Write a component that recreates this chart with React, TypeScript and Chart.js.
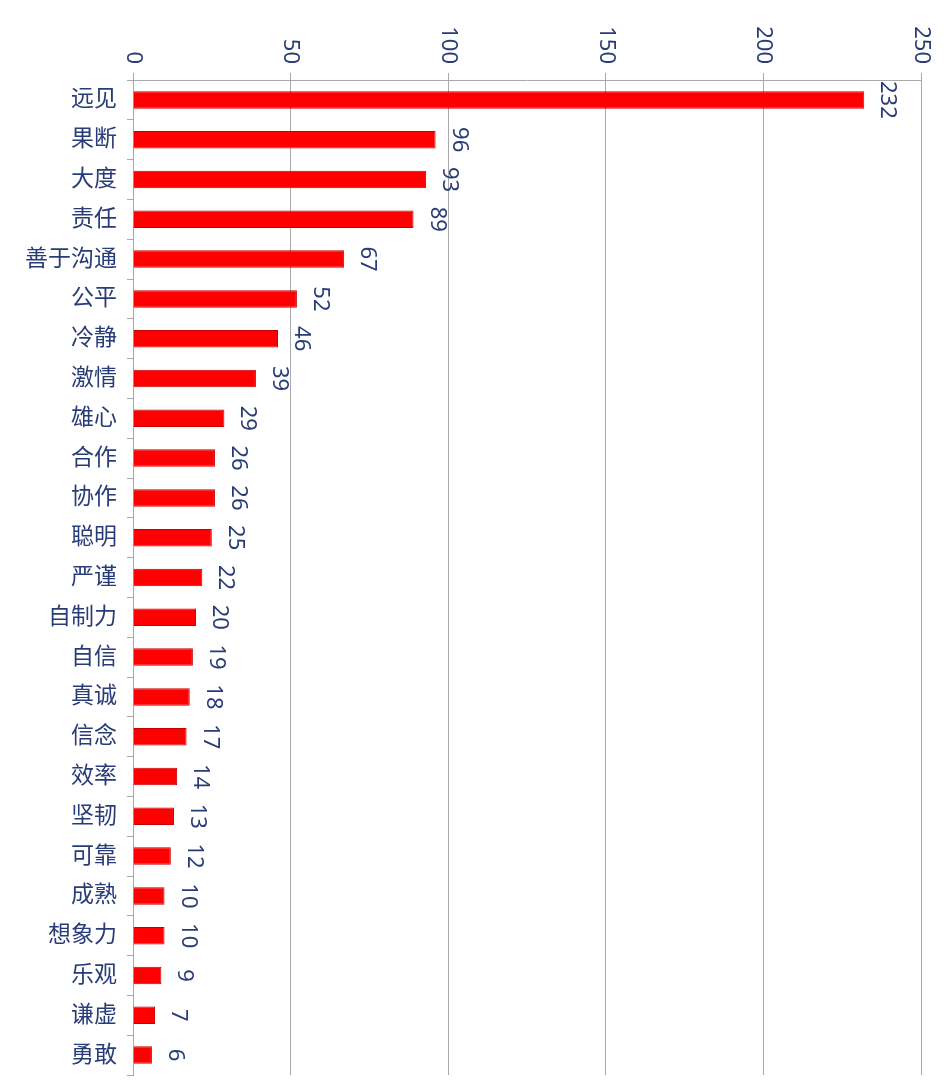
import { useEffect, useRef } from "react"
import { Chart, registerables } from "chart.js"

Chart.register(...registerables)

// traits and how many times each was mentioned
const traits = [
  "远见", "果断", "大度", "责任", "善于沟通", "公平", "冷静", "激情", "雄心", "合作",
  "协作", "聪明", "严谨", "自制力", "自信", "真诚", "信念", "效率", "坚韧", "可靠",
  "成熟", "想象力", "乐观", "谦虚", "勇敢",
]
const counts = [
  232, 96, 93, 89, 67, 52, 46, 39, 29, 26,
  26, 25, 22, 20, 19, 18, 17, 14, 13, 12,
  10, 10, 9, 7, 6,
]
const axisTicks = [0, 50, 100, 150, 200, 250]

const textColor = "#283c78"
const gridColor = "#a9a9a9"
const fontFamily = '"Noto Sans", "Noto Sans CJK SC", sans-serif'

// tick labels and value labels are drawn turned 90° clockwise
const rotatedText = {
  id: "rotatedText",
  afterDatasetsDraw(chart: any) {
    const ctx = chart.ctx
    const xScale = chart.scales.x
    const meta = chart.getDatasetMeta(0)
    ctx.save()
    ctx.fillStyle = textColor
    ctx.font = `22px ${fontFamily}`

    axisTicks.forEach((v) => {
      ctx.save()
      ctx.translate(xScale.getPixelForValue(v), xScale.bottom - 16)
      ctx.rotate(Math.PI / 2)
      ctx.textAlign = "right"
      ctx.textBaseline = "middle"
      ctx.fillText(String(v), 0, 0)
      ctx.restore()
    })

    meta.data.forEach((bar: any, i: number) => {
      ctx.save()
      ctx.translate(bar.x + 17, bar.y)
      ctx.rotate(Math.PI / 2)
      ctx.textAlign = "center"
      ctx.textBaseline = "alphabetic"
      ctx.fillText(String(counts[i]), 0, 0)
      ctx.restore()
    })
    ctx.restore()
  },
}

export default function App() {
  const canvasRef = useRef<HTMLCanvasElement>(null)

  useEffect(() => {
    if (!canvasRef.current) return
    const chart = new Chart(canvasRef.current, {
      type: "bar",
      data: {
        labels: traits,
        datasets: [
          {
            data: counts,
            backgroundColor: "#ff0000",
            borderColor: "#c40000",
            borderWidth: 1,
            barPercentage: 0.44,
            categoryPercentage: 1,
          },
        ],
      },
      options: {
        indexAxis: "y",
        responsive: true,
        maintainAspectRatio: false,
        animation: false,
        layout: { padding: { top: 0, left: 0, right: 31, bottom: 5 } },
        plugins: {
          legend: { display: false },
          tooltip: { enabled: false },
        },
        scales: {
          x: {
            position: "top",
            min: 0,
            max: 250,
            ticks: { stepSize: 50, display: false },
            grid: { color: gridColor, lineWidth: 1, tickLength: 7 },
            border: { color: gridColor },
            afterFit: (scale: any) => {
              scale.height = 80
              scale.paddingLeft = 0
              scale.paddingRight = 0
            },
          },
          y: {
            grid: { drawOnChartArea: false, color: gridColor, tickLength: 6, offset: true },
            border: { color: gridColor },
            ticks: {
              color: textColor,
              padding: 10,
              font: { size: 23, family: fontFamily },
            },
            afterFit: (scale: any) => {
              scale.width = 133
              scale.paddingTop = 0
              scale.paddingBottom = 0
            },
          },
        },
      },
      plugins: [rotatedText],
    })
    return () => chart.destroy()
  }, [])

  return (
    <div style={{ position: "fixed", left: 0, top: 0, width: 952, height: 1080, background: "#fff" }}>
      <canvas ref={canvasRef}></canvas>
    </div>
  )
}
